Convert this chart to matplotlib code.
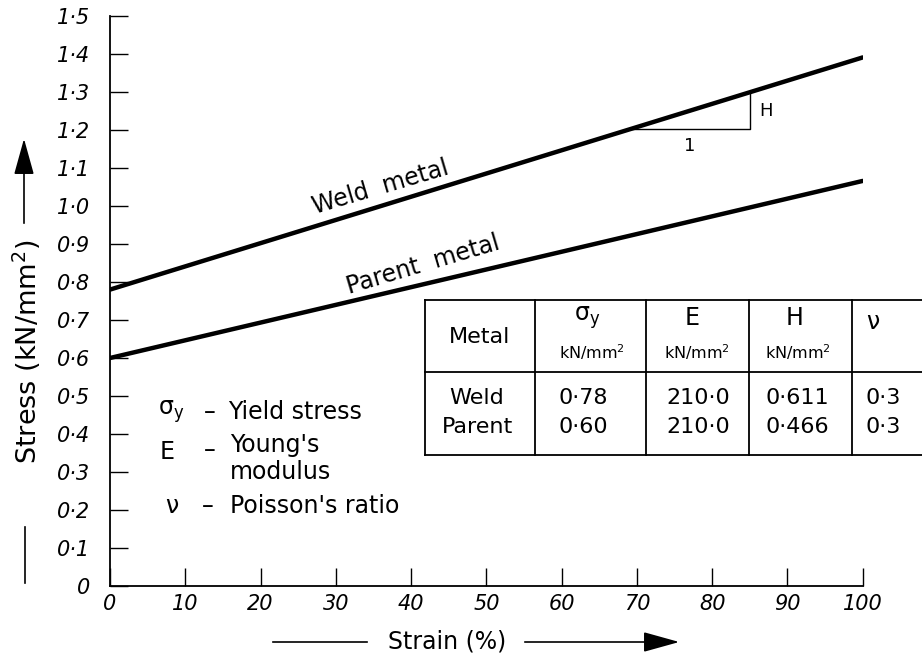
import numpy as np
import matplotlib
matplotlib.use("Agg")
import matplotlib.pyplot as plt
from matplotlib.lines import Line2D

plt.rcParams['font.family'] = ['DejaVu Sans']
plt.rcParams['mathtext.default'] = 'regular'

# data
strain = [0, 100]
weld_yield, weld_H = 0.78, 0.611
parent_yield, parent_H = 0.60, 0.466
weld = [weld_yield, weld_yield + weld_H]
parent = [parent_yield, parent_yield + parent_H]

xticks = [0, 10, 20, 30, 40, 50, 60, 70, 80, 90, 100]
yticks = [0, 0.1, 0.2, 0.3, 0.4, 0.5, 0.6, 0.7, 0.8, 0.9, 1.0, 1.1, 1.2, 1.3, 1.4, 1.5]
ytick_labels = ['0', '0·1', '0·2', '0·3', '0·4', '0·5', '0·6', '0·7', '0·8', '0·9',
                '1·0', '1·1', '1·2', '1·3', '1·4', '1·5']

tab_metals = ['Weld', 'Parent']
tab_sigma = ['0·78', '0·60']
tab_E = ['210·0', '210·0']
tab_H = ['0·611', '0·466']
tab_nu = ['0·3', '0·3']

W, H = 922, 659
fig = plt.figure(figsize=(W / 100, H / 100), dpi=100)
ax = fig.add_axes([110 / W, (H - 586) / H, 752.7 / W, 570 / H])


def fx(px):
    return px / W


def fy(py):
    return 1 - py / H


ax.plot(strain, weld, color='black', lw=3.2, solid_capstyle='round')
ax.plot(strain, parent, color='black', lw=3.2, solid_capstyle='round')

# slope triangle on weld line
x0, x1 = 69, 85
y0 = weld_yield + weld_H * x0 / 100
y1 = weld_yield + weld_H * x1 / 100
ax.plot([x0, x1, x1], [y0, y0, y1], color='black', lw=1.0)
ax.text(86.3, (y0 + y1) / 2, 'H', fontsize=13, ha='left', va='center')
ax.text((x0 + x1) / 2, y0 - 0.045, '1', fontsize=13, ha='center', va='center')

ax.text(35.9, 1.05, 'Weld  metal', fontsize=17, rotation=16.5,
        rotation_mode='anchor', ha='center', va='center')
ax.text(41.6, 0.845, 'Parent  metal', fontsize=17, rotation=16.5,
        rotation_mode='anchor', ha='center', va='center')

ax.set_xlim(0, 100)
ax.set_ylim(0, 1.5)
ax.set_xticks(xticks)
ax.set_xticklabels([str(v) for v in xticks], fontstyle='italic', fontsize=15)
ax.set_yticks(yticks)
ax.set_yticklabels(ytick_labels, fontstyle='italic', fontsize=15)
ax.tick_params(axis='both', direction='in', length=13, width=1.0)
ax.tick_params(axis='x', pad=6)
ax.tick_params(axis='y', pad=14)
ax.spines['top'].set_visible(False)
ax.spines['right'].set_visible(False)
for s in ('left', 'bottom'):
    ax.spines[s].set_linewidth(1.3)

# axis labels with arrows
fig.text(fx(27), fy(352), 'Stress (kN/mm$^2$)', rotation=90, fontsize=19.5,
         ha='center', va='center')
fig.add_artist(Line2D([fx(25), fx(25)], [fy(527), fy(583)], color='black', lw=1.2))
ax.annotate('', xy=(24, H - 136), xytext=(24, H - 226), xycoords='figure pixels',
            textcoords='figure pixels',
            arrowprops=dict(arrowstyle='-|>,head_length=0.9,head_width=0.25',
                            mutation_scale=25, lw=1.2, color='black'))

fig.text(fx(447), fy(642), 'Strain (%)', fontsize=17, ha='center', va='center')
fig.add_artist(Line2D([fx(273), fx(367)], [fy(642), fy(642)], color='black', lw=1.2))
ax.annotate('', xy=(682, H - 642), xytext=(522, H - 642), xycoords='figure pixels',
            textcoords='figure pixels',
            arrowprops=dict(arrowstyle='-|>,head_length=0.9,head_width=0.25',
                            mutation_scale=25, lw=1.2, color='black'))

# symbol key
fig.text(fx(158), fy(412), 'σ$_y$', fontsize=17, ha='left', va='center')
fig.text(fx(204), fy(412), '–', fontsize=17, ha='left', va='center')
fig.text(fx(228), fy(412), 'Yield stress', fontsize=17, ha='left', va='center')
fig.text(fx(160), fy(452), 'E', fontsize=17, ha='left', va='center')
fig.text(fx(204), fy(450), '–', fontsize=17, ha='left', va='center')
fig.text(fx(230), fy(445), "Young's", fontsize=17, ha='left', va='center')
fig.text(fx(230), fy(472), 'modulus', fontsize=17, ha='left', va='center')
fig.text(fx(165), fy(506), 'ν', fontsize=17, ha='left', va='center')
fig.text(fx(202), fy(506), '–', fontsize=17, ha='left', va='center')
fig.text(fx(230), fy(506), "Poisson's ratio", fontsize=17, ha='left', va='center')

# table
tl, tr = 425, 922
ttop, tmid, tbot = 300, 372, 455
cols = [425, 535, 646, 749, 852]
for yy in (ttop, tmid, tbot):
    fig.add_artist(Line2D([fx(tl), fx(tr)], [fy(yy), fy(yy)], color='black', lw=1.3))
for xx in cols:
    fig.add_artist(Line2D([fx(xx), fx(xx)], [fy(ttop), fy(tbot)], color='black', lw=1.3))

fs = 16
fig.text(fx(480), fy(337), 'Metal', fontsize=fs, ha='center', va='center')
fig.text(fx(587), fy(318), 'σ$_y$', fontsize=17, ha='center', va='center')
fig.text(fx(692), fy(318), 'E', fontsize=17, ha='center', va='center')
fig.text(fx(795), fy(318), 'H', fontsize=17, ha='center', va='center')
fig.text(fx(873), fy(322), 'ν', fontsize=17, ha='center', va='center')
for cx in (592, 697, 798):
    fig.text(fx(cx), fy(352), 'kN/mm$^2$', fontsize=11.5, ha='center', va='center')

for i, ry in enumerate((398, 427)):
    fig.text(fx(477), fy(ry), tab_metals[i], fontsize=fs, ha='center', va='center')
    fig.text(fx(558), fy(ry), tab_sigma[i], fontsize=fs, ha='left', va='center')
    fig.text(fx(698), fy(ry), tab_E[i], fontsize=fs, ha='center', va='center')
    fig.text(fx(765), fy(ry), tab_H[i], fontsize=fs, ha='left', va='center')
    fig.text(fx(865), fy(ry), tab_nu[i], fontsize=fs, ha='left', va='center')

fig.savefig('out.png', dpi=100)
